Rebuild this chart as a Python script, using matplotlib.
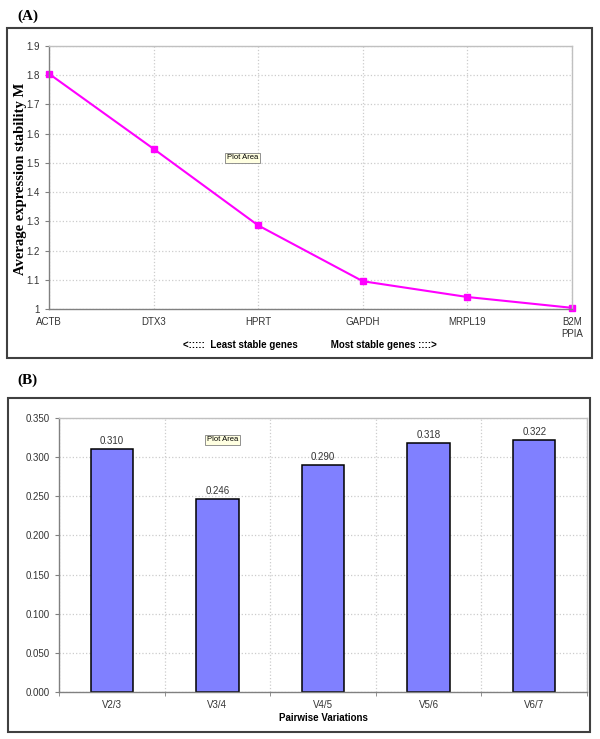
import matplotlib
matplotlib.use('Agg')
import matplotlib.pyplot as plt
from matplotlib.patches import Rectangle
from matplotlib.ticker import FormatStrFormatter

# Panel A: geNorm average expression stability
genes = ['ACTB', 'DTX3', 'HPRT', 'GAPDH', 'MRPL19', 'B2M\nPPIA']
stability_m = [1.805, 1.548, 1.286, 1.095, 1.041, 1.004]
a_yticks = [1, 1.1, 1.2, 1.3, 1.4, 1.5, 1.6, 1.7, 1.8, 1.9]

# Panel B: pairwise variations
pairs = ['V2/3', 'V3/4', 'V4/5', 'V5/6', 'V6/7']
pairwise_v = [0.310, 0.246, 0.290, 0.318, 0.322]
b_yticks = [0.0, 0.05, 0.1, 0.15, 0.2, 0.25, 0.3, 0.35]

W, H = 600, 739
fig = plt.figure(figsize=(W / 100, H / 100), dpi=100)
sans = 'Liberation Sans'
serif = 'Liberation Serif'


def px_rect(x0, y0, x1, y1):
    # pixel box (from top-left) -> figure fraction [left, bottom, width, height]
    return [x0 / W, 1 - y1 / H, (x1 - x0) / W, (y1 - y0) / H]


def style_axes(ax):
    for side in ['left', 'bottom']:
        ax.spines[side].set_color('#808080')
        ax.spines[side].set_linewidth(1.0)
    for side in ['top', 'right']:
        ax.spines[side].set_color('#c0c0c0')
        ax.spines[side].set_linewidth(1.0)
    ax.tick_params(direction='out', length=3, width=0.8, color='#808080',
                   labelsize=7, labelcolor='#333333')
    for lab in ax.get_xticklabels() + ax.get_yticklabels():
        lab.set_family(sans)
    ax.set_axisbelow(True)


# outer frames
for box in [(7, 28, 592, 358), (8, 398, 590, 732)]:
    l, b, w, h = px_rect(*box)
    fig.patches.append(Rectangle((l, b), w, h, transform=fig.transFigure,
                                 fill=False, edgecolor='#404040', linewidth=1.5))

fig.text(17 / W, 1 - 16 / H, '(A)', family=serif, fontweight='bold', fontsize=11, va='center')
fig.text(17 / W, 1 - 380 / H, '(B)', family=serif, fontweight='bold', fontsize=11, va='center')

# ---- Panel A ----
ax1 = fig.add_axes(px_rect(49, 46, 572, 309))
x = list(range(len(genes)))
ax1.plot(x, stability_m, color='#ff00ff', linewidth=1.5, marker='s',
         markersize=5, markerfacecolor='#ff00ff', markeredgecolor='#ff00ff', clip_on=False)
ax1.set_xlim(0, len(genes) - 1)
ax1.set_ylim(1, 1.9)
ax1.set_yticks(a_yticks)
ax1.set_yticklabels([f'{v:g}' for v in a_yticks])
ax1.set_xticks(x)
ax1.set_xticklabels(genes)
ax1.grid(True, color='#cccccc', linestyle=':', linewidth=0.9)
style_axes(ax1)
ax1.tick_params(axis='x', length=0, pad=6)
fig.text(21 / W, 1 - 179 / H, 'Average expression stability M', family=serif,
         fontweight='bold', fontsize=10.5, rotation=90, ha='center', va='center')
fig.text(310 / W, 1 - 345 / H, '<:::::  Least stable genes            Most stable genes ::::>',
         family=sans, fontweight='bold', fontsize=7, ha='center', va='center')
ax1.text(0.34, 0.57, 'Plot Area', transform=ax1.transAxes, family=sans, fontsize=5.5,
         bbox=dict(boxstyle='square,pad=0.2', facecolor='#ffffe1', edgecolor='#808080', linewidth=0.6))

# ---- Panel B ----
ax2 = fig.add_axes(px_rect(59, 418, 587, 692))
xb = list(range(len(pairs)))
bars = ax2.bar(xb, pairwise_v, width=0.4, color='#8080ff', edgecolor='black', linewidth=1.1)
ax2.set_xlim(-0.5, len(pairs) - 0.5)
ax2.set_ylim(0, 0.35)
ax2.set_yticks(b_yticks)
ax2.yaxis.set_major_formatter(FormatStrFormatter('%.3f'))
ax2.set_xticks(xb)
ax2.set_xticklabels(pairs)
ax2.set_xticks([i + 0.5 for i in range(-1, len(pairs))], minor=True)
ax2.grid(True, axis='y', color='#cccccc', linestyle=':', linewidth=0.9)
ax2.grid(True, axis='x', which='minor', color='#cccccc', linestyle=':', linewidth=0.9)
style_axes(ax2)
ax2.tick_params(axis='x', which='major', length=0, pad=6)
ax2.tick_params(axis='x', which='minor', length=3, color='#808080', direction='out')
for bar, v in zip(bars, pairwise_v):
    ax2.text(bar.get_x() + bar.get_width() / 2, v + 0.004, f'{v:.3f}',
             ha='center', va='bottom', family=sans, fontsize=7, color='#333333')
fig.text(323 / W, 1 - 718 / H, 'Pairwise Variations', family=sans, fontweight='bold',
         fontsize=7, ha='center', va='center')
ax2.text(0.28, 0.915, 'Plot Area', transform=ax2.transAxes, family=sans, fontsize=5.5,
         bbox=dict(boxstyle='square,pad=0.2', facecolor='#ffffe1', edgecolor='#808080', linewidth=0.6))

fig.savefig('out.png', dpi=100)
